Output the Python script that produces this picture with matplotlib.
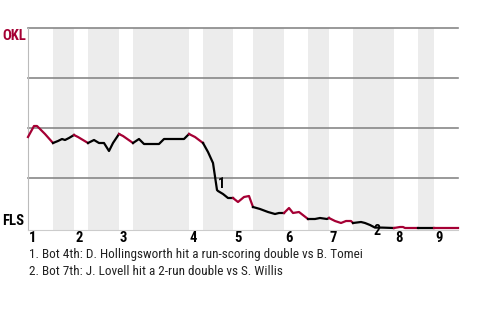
import matplotlib
matplotlib.use("Agg")
import matplotlib.pyplot as plt
from matplotlib import font_manager
import numpy as np

# ---- data ----
teams = ["OKL", "FLS"]
# half-inning boundaries (game progress units)
half_bounds = [0, 25, 46, 60, 91, 105, 161, 175, 205, 225, 256, 280, 301, 325, 366, 390, 406, 430]
inning_labels = ["1", "2", "3", "4", "5", "6", "7", "8", "9"]
# win probability for OKL along game progress
prog = [0, 6, 9, 13, 17, 25, 30, 34, 37, 41, 46, 50, 60, 66, 71, 76, 81, 85, 91, 95,
        105, 111, 116, 131, 136, 156, 161, 167, 175, 180, 185, 189, 190, 195, 200, 205,
        210, 216, 221, 225, 232, 240, 247, 251, 256, 261, 265, 271, 280, 287, 292, 299,
        301, 307, 313, 318, 323, 325, 333, 337, 342, 347, 354, 366, 372, 375, 377, 390,
        406, 430]
wp = [0.455, 0.51, 0.51, 0.49, 0.47, 0.425, 0.435, 0.445, 0.44, 0.45, 0.465, 0.455,
      0.425, 0.44, 0.425, 0.425, 0.385, 0.425, 0.47, 0.46, 0.425, 0.445, 0.42, 0.42,
      0.445, 0.445, 0.47, 0.455, 0.425, 0.38, 0.325, 0.19, 0.185, 0.17, 0.15, 0.15,
      0.13, 0.155, 0.16, 0.105, 0.095, 0.08, 0.07, 0.075, 0.075, 0.10, 0.075, 0.08,
      0.045, 0.045, 0.05, 0.045, 0.05, 0.035, 0.025, 0.035, 0.035, 0.025, 0.03, 0.025,
      0.015, 0.002, 0.002, 0.0, 0.005, 0.005, 0.0, 0.0, 0.0, 0.0]
notes = ["1. Bot 4th: D. Hollingsworth hit a run-scoring double vs B. Tomei",
         "2. Bot 7th: J. Lovell hit a 2-run double vs S. Willis"]
note_pos = [(193, 0.22), (349, -0.015)]

RED = "#a50034"

avail = {f.name for f in font_manager.fontManager.ttflist}
cond = "Roboto Condensed" if "Roboto Condensed" in avail else "Roboto"

fig = plt.figure(figsize=(4.8, 3.2), dpi=100)
ax = fig.add_axes([28/480, (320-230)/320, 430/480, (230-28)/320])
ax.set_xlim(0, 430)
ax.set_ylim(-0.01, 1.0)

# shading bottom halves
for i in range(1, len(half_bounds) - 1, 2):
    ax.axvspan(half_bounds[i], half_bounds[i+1], color="#ececec", lw=0, zorder=0)

for g in [0.25, 0.5, 0.75, 1.0]:
    ax.axhline(g, color="#888888", lw=1.2, zorder=1, clip_on=False)

# line coloured by half-inning
x = np.array(prog, float); y = np.array(wp, float)
for i in range(len(half_bounds) - 1):
    a, b = half_bounds[i], half_bounds[i+1]
    xs = np.concatenate([[a], x[(x > a) & (x < b)], [b]])
    ys = np.interp(xs, x, y)
    ax.plot(xs, ys, color=RED if i % 2 == 0 else "black", lw=1.6,
            solid_joinstyle="round", zorder=3, clip_on=False)

for s in ["top", "right"]:
    ax.spines[s].set_visible(False)
ax.spines["left"].set_color("#bbbbbb")
ax.spines["bottom"].set_color("#cccccc")
ax.set_xticks([]); ax.set_yticks([])

ax.text(-26, 0.962, teams[0], color=RED, fontsize=10.5, fontweight="bold",
        family=cond, ha="left", va="center")
ax.text(-26, 0.035, teams[1], color="black", fontsize=10.5, fontweight="bold",
        family=cond, ha="left", va="center")

for k, lab in enumerate(inning_labels):
    ax.text(half_bounds[2*k] + 1, -0.048, lab, fontsize=10.5, fontweight="bold",
            family=cond, ha="left", va="center")

for k, (px, py) in enumerate(note_pos):
    ax.text(px, py, str(k+1), fontsize=10, fontweight="bold", family=cond,
            ha="center", va="center", zorder=4)

for k, n in enumerate(notes):
    fig.text(29/480, 1 - (254.5 + 17*k)/320, n, fontsize=9.5, family=cond,
             ha="left", va="center", color="#222222")

fig.savefig("out.png", dpi=100)
